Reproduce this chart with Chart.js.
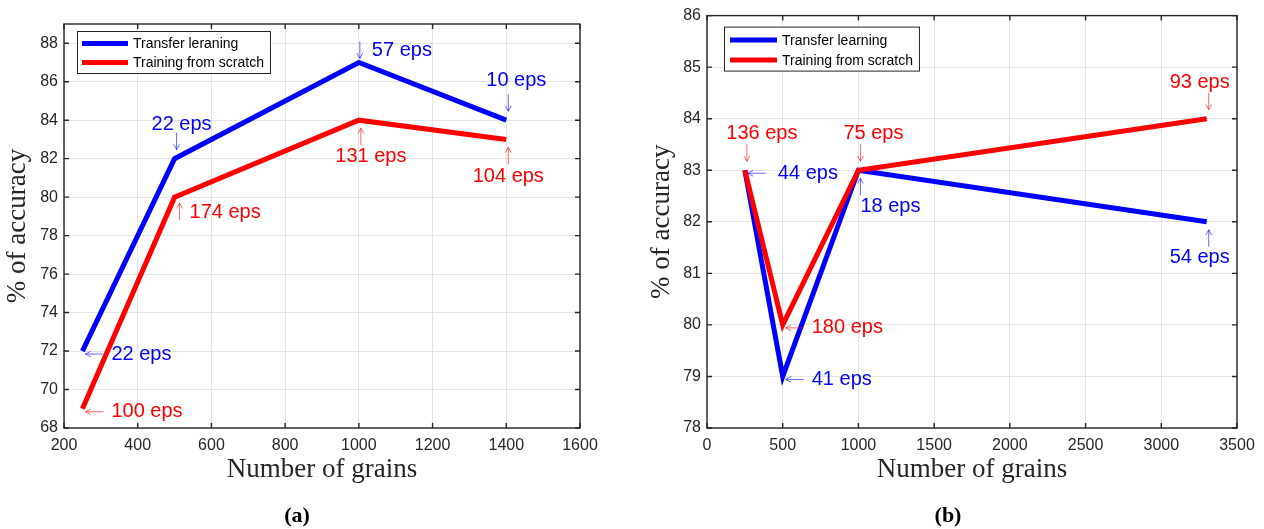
<!DOCTYPE html>
<html>
<head>
<meta charset="utf-8">
<script src="https://cdn.jsdelivr.net/npm/chart.js@4/dist/chart.umd.min.js"></script>
<style>
  html, body { margin: 0; padding: 0; background: #fff; }
  body { width: 1264px; height: 529px; position: relative; overflow: hidden; }
  canvas { position: absolute; top: 0; }
  #chartA { left: 0; }
  #chartB { left: 640px; }
  .caption { position: absolute; top: 502px; font: bold 22px "Liberation Serif", serif; transform: translateX(-50%); color: #000; }
</style>
</head>
<body>
<canvas id="chartA" width="640" height="529"></canvas>
<canvas id="chartB" width="624" height="529"></canvas>
<div class="caption" style="left:297px">(a)</div>
<div class="caption" style="left:948px">(b)</div>
<script>
// --- panel (a) data
const grainsA = [250, 500, 1000, 1400];
const transferA = [72, 82, 87, 84];
const scratchA = [69, 80, 84, 83];
const transferEpsA = ['22 eps', '22 eps', '57 eps', '10 eps'];
const scratchEpsA = ['100 eps', '174 eps', '131 eps', '104 eps'];
const xTicksA = [200, 400, 600, 800, 1000, 1200, 1400, 1600];
const yTicksA = [68, 70, 72, 74, 76, 78, 80, 82, 84, 86, 88];

// --- panel (b) data
const grainsB = [250, 500, 1000, 3300];
const transferB = [83, 79, 83, 82];
const scratchB = [83, 80, 83, 84];
const transferEpsB = ['44 eps', '41 eps', '18 eps', '54 eps'];
const scratchEpsB = ['136 eps', '180 eps', '75 eps', '93 eps'];
const xTicksB = [0, 500, 1000, 1500, 2000, 2500, 3000, 3500];
const yTicksB = [78, 79, 80, 81, 82, 83, 84, 85, 86];

const BLUE = '#0000ff';
const RED = '#ff0000';
const AXIS = '#262626';
const SANS = '"Liberation Sans", Arial, sans-serif';
const SERIF = '"Liberation Serif", "Times New Roman", serif';

// box around the plot with inward ticks on all four sides (matlab style)
const boxTicks = {
    id: 'boxTicks',
    afterDraw(chart) {
        const { ctx, chartArea: a, scales: { x, y } } = chart;
        const len = 5;
        ctx.save();
        ctx.strokeStyle = AXIS;
        ctx.lineWidth = 1.4;
        ctx.strokeRect(a.left, a.top, a.right - a.left, a.bottom - a.top);
        ctx.beginPath();
        x.ticks.forEach(t => {
            const px = x.getPixelForValue(t.value);
            ctx.moveTo(px, a.bottom); ctx.lineTo(px, a.bottom - len);
            ctx.moveTo(px, a.top); ctx.lineTo(px, a.top + len);
        });
        y.ticks.forEach(t => {
            const py = y.getPixelForValue(t.value);
            ctx.moveTo(a.left, py); ctx.lineTo(a.left + len, py);
            ctx.moveTo(a.right, py); ctx.lineTo(a.right - len, py);
        });
        ctx.stroke();
        ctx.restore();
    }
};

// legend drawn as a framed box inside the plot
const boxLegend = {
    id: 'boxLegend',
    afterDraw(chart, args, opts) {
        const { ctx, chartArea: a } = chart;
        const sets = chart.data.datasets;
        ctx.save();
        ctx.font = '14px ' + SANS;
        const textW = Math.max(...sets.map(d => ctx.measureText(d.label).width));
        const x0 = a.left + opts.dx, y0 = a.top + opts.dy;
        const w = opts.textX + textW + 6, h = opts.height;
        ctx.fillStyle = '#fff';
        ctx.fillRect(x0, y0, w, h);
        ctx.strokeStyle = AXIS;
        ctx.lineWidth = 1;
        ctx.strokeRect(x0 + 0.5, y0 + 0.5, w, h);
        sets.forEach((d, i) => {
            const ry = y0 + opts.rows[i];
            ctx.strokeStyle = d.borderColor;
            ctx.lineWidth = 5;
            ctx.beginPath();
            ctx.moveTo(x0 + opts.lineFrom, ry);
            ctx.lineTo(x0 + opts.lineTo, ry);
            ctx.stroke();
            ctx.fillStyle = '#000';
            ctx.textBaseline = 'middle';
            ctx.textAlign = 'left';
            ctx.fillText(d.label, x0 + opts.textX, ry + 1);
        });
        ctx.restore();
    }
};

function arrow(ctx, x1, y1, x2, y2) {
    // from (x1,y1) to tip (x2,y2)
    const ang = Math.atan2(y2 - y1, x2 - x1);
    const hl = 6, spread = 0.5;
    ctx.beginPath();
    ctx.moveTo(x1, y1); ctx.lineTo(x2, y2);
    ctx.moveTo(x2 - hl * Math.cos(ang - spread), y2 - hl * Math.sin(ang - spread));
    ctx.lineTo(x2, y2);
    ctx.lineTo(x2 - hl * Math.cos(ang + spread), y2 - hl * Math.sin(ang + spread));
    ctx.stroke();
}

// "xx eps" labels with little arrows pointing at the points
const epsLabels = {
    id: 'epsLabels',
    afterDatasetsDraw(chart, args, opts) {
        const { ctx, scales: { x, y } } = chart;
        ctx.save();
        ctx.font = '20px ' + SANS;
        ctx.textBaseline = 'middle';
        ctx.lineWidth = 1;
        opts.groups.forEach(g => {
            g.xs.forEach((xv, i) => {
                const px = x.getPixelForValue(xv);
                const py = y.getPixelForValue(g.ys[i]);
                const [nx, ny] = g.nudge[i];
                ctx.strokeStyle = g.arrowColor;
                ctx.fillStyle = g.color;
                const side = g.sides[i];
                if (side === 'right') {
                    arrow(ctx, px + 21, py + 3, px + 3, py + 3);
                    ctx.textAlign = 'left';
                    ctx.fillText(g.texts[i], px + 29 + nx, py + 3 + ny);
                } else if (side === 'above') {
                    arrow(ctx, px + 2, py - 26, px + 2, py - 9);
                    ctx.textAlign = 'center';
                    ctx.fillText(g.texts[i], px + 8 + nx, py - 37 + ny);
                } else if (side === 'below') {
                    arrow(ctx, px + 2, py + 25, px + 2, py + 8);
                    ctx.textAlign = 'center';
                    ctx.fillText(g.texts[i], px + 8 + nx, py + 36 + ny);
                } else if (side === 'aboveRight') {
                    arrow(ctx, px + 1, py - 21, px + 1, py - 4);
                    ctx.textAlign = 'left';
                    ctx.fillText(g.texts[i], px + 13 + nx, py - 12 + ny);
                } else if (side === 'belowRight') {
                    arrow(ctx, px + 5, py + 23, px + 5, py + 6);
                    ctx.textAlign = 'left';
                    ctx.fillText(g.texts[i], px + 15 + nx, py + 15 + ny);
                }
            });
        });
        ctx.restore();
    }
};

function series(label, xs, ys, color, order) {
    return {
        label: label,
        data: xs.map((v, i) => ({ x: v, y: ys[i] })),
        borderColor: color,
        backgroundColor: color,
        borderWidth: 5,
        pointRadius: 0,
        tension: 0,
        borderJoinStyle: 'miter',
        borderCapStyle: 'butt',
        fill: false,
        order: order
    };
}

function makeChart(id, cfg) {
    const tickFont = { family: SANS, size: 16 };
    const titleFont = { family: SERIF, size: 27 };
    return new Chart(document.getElementById(id), {
        type: 'line',
        data: {
            datasets: [
                series(cfg.names[0], cfg.xs, cfg.transfer, BLUE, 1),
                series(cfg.names[1], cfg.xs, cfg.scratch, RED, 0)
            ]
        },
        options: {
            responsive: false,
            animation: false,
            devicePixelRatio: 1,
            layout: { padding: cfg.padding },
            scales: {
                x: {
                    type: 'linear',
                    min: cfg.xTicks[0],
                    max: cfg.xTicks[cfg.xTicks.length - 1],
                    afterBuildTicks: s => { s.ticks = cfg.xTicks.map(v => ({ value: v })); },
                    afterFit: s => { s.height = cfg.xAxisH; },
                    grid: { color: '#e4e4e4', drawTicks: false },
                    border: { display: false },
                    ticks: { padding: 8, color: AXIS, font: tickFont, maxRotation: 0, autoSkip: false, callback: v => String(v) },
                    title: { display: true, text: 'Number of grains', color: AXIS, font: titleFont, padding: { top: 0, bottom: 43 } }
                },
                y: {
                    min: cfg.yTicks[0],
                    max: cfg.yMax,
                    afterBuildTicks: s => { s.ticks = cfg.yTicks.map(v => ({ value: v })); },
                    afterFit: s => { s.width = cfg.yAxisW; },
                    grid: { color: '#e4e4e4', drawTicks: false },
                    border: { display: false },
                    ticks: { padding: 6, color: AXIS, font: tickFont, autoSkip: false, callback: v => String(v) },
                    title: { display: true, text: '% of accuracy', color: AXIS, font: titleFont, padding: { top: cfg.yTitlePad, bottom: 0 } }
                }
            },
            plugins: {
                legend: { display: false },
                tooltip: { enabled: false },
                boxLegend: cfg.legend,
                epsLabels: {
                    groups: [
                        { xs: cfg.xs, ys: cfg.transfer, texts: cfg.transferEps, color: BLUE, arrowColor: 'rgba(0,0,255,0.6)', sides: cfg.transferSides, nudge: cfg.transferNudge },
                        { xs: cfg.xs, ys: cfg.scratch, texts: cfg.scratchEps, color: RED, arrowColor: 'rgba(255,0,0,0.6)', sides: cfg.scratchSides, nudge: cfg.scratchNudge }
                    ]
                }
            }
        },
        plugins: [boxTicks, epsLabels, boxLegend]
    });
}

makeChart('chartA', {
    names: ['Transfer leraning', 'Training from scratch'],
    xs: grainsA, transfer: transferA, scratch: scratchA,
    transferEps: transferEpsA, scratchEps: scratchEpsA,
    xTicks: xTicksA, yTicks: yTicksA, yMax: 89,
    padding: { left: 0, top: 24, right: 60, bottom: 0 },
    xAxisH: 101, yAxisW: 64, yTitlePad: 2,
    legend: { dx: 13, dy: 7, height: 42, rows: [12.5, 31.5], lineFrom: 5, lineTo: 51, textX: 56 },
    transferSides: ['right', 'above', 'aboveRight', 'above'],
    transferNudge: [[0, 0], [-1, 3], [0, 0], [2, -3]],
    scratchSides: ['right', 'belowRight', 'below', 'below'],
    scratchNudge: [[0, 0], [0, 0], [4, 0], [-6, 1]]
});

makeChart('chartB', {
    names: ['Transfer learning', 'Training from scratch'],
    xs: grainsB, transfer: transferB, scratch: scratchB,
    transferEps: transferEpsB, scratchEps: scratchEpsB,
    xTicks: xTicksB, yTicks: yTicksB, yMax: 86,
    padding: { left: 0, top: 15, right: 27, bottom: 0 },
    xAxisH: 101, yAxisW: 67, yTitlePad: 6,
    legend: { dx: 17, dy: 11, height: 44, rows: [13.5, 33.5], lineFrom: 6, lineTo: 53, textX: 58 },
    transferSides: ['right', 'right', 'below', 'below'],
    transferNudge: [[4, 0], [0, 0], [24, 0], [-15, 0]],
    scratchSides: ['above', 'right', 'above', 'above'],
    scratchNudge: [[9, 0], [0, 0], [7, 0], [-15, 1]]
});
</script>
</body>
</html>
